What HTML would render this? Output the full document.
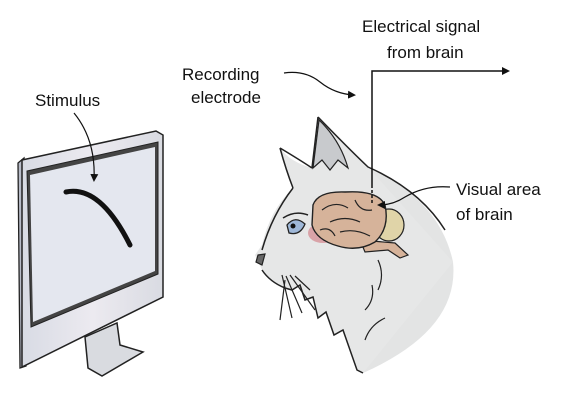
<!DOCTYPE html>
<html><head><meta charset="utf-8"><style>
html,body{margin:0;padding:0;background:#fff;width:576px;height:404px;overflow:hidden}
svg{display:block}
text{font-family:"Liberation Sans",sans-serif;font-size:17px;fill:#111}
</style></head><body>
<svg width="576" height="404" viewBox="0 0 576 404">
<defs>
<marker id="ah" markerWidth="8" markerHeight="8" refX="6" refY="4" orient="auto" markerUnits="userSpaceOnUse"><path d="M0,0 L8,4 L0,8 Z" fill="#111"/></marker>
<linearGradient id="fr" x1="0" x2="1"><stop offset="0" stop-color="#d8dbe4"/><stop offset="0.5" stop-color="#eceaf0"/><stop offset="1" stop-color="#d9dbe2"/></linearGradient>
</defs>
<g>
<path d="M85,337 L117,323 L120,345 L143,352 L102,376 L88,368 Z" fill="#d9dbe0" stroke="#222" stroke-width="1.5"/>
<path d="M18,163 L24,158 L26,366 L20,368 Z" fill="#b8bcc8" stroke="#222" stroke-width="1.3"/>
<path d="M22,160 L156,131 L163,135 L163,297 L22,367 Z" fill="url(#fr)" stroke="#222" stroke-width="1.5"/>
<path d="M27,171 L158,142 L158,274 L31,327 Z" fill="#444" stroke="#222" stroke-width="1"/>
<path d="M30,175 L155,147 L155,271 L33,322 Z" fill="#e4e7ef"/>
<path d="M66,192 Q100,185 130,245" fill="none" stroke="#111" stroke-width="5" stroke-linecap="round"/>
</g>
<text x="35" y="106">Stimulus</text>
<path d="M74,113 Q96,140 94,180" fill="none" stroke="#111" stroke-width="1.2" marker-end="url(#ah)"/>
<g>
<path d="M368,167 Q440,200 453,262 Q460,330 363,373 L340,300 Z" fill="#e3e4e4"/>
<path d="M280,148 Q290,162 312,168 L318,117 Q350,150 368,167 L453,262 L363,373 L357,370 L350,350 L343,330 L334,335 L326,312 L318,318 L313,297 L305,300 L300,285 L292,290 L285,288 Q270,282 262,270 L255,255 L262,245 Q270,210 293,188 Z" fill="#e6e7e7"/>
<path d="M280,148 Q300,160 312,168 M280,148 Q286,170 293,188 M318,117 L312,168 M318,117 Q350,150 368,167 Q420,190 445,230" fill="none" stroke="#222" stroke-width="1.5"/>
<path d="M319,120 L313,168 L322,160 L330,170 L338,160 L348,168 Q340,140 319,120 Z" fill="#c8cacd" stroke="#222" stroke-width="1.2"/>
<path d="M293,188 Q272,215 262,250 M262,270 Q270,282 285,288 L292,290 L300,285 L305,300 L313,297 L318,318 L326,312 L334,335 L343,330 L350,350 L357,370 L363,373" fill="none" stroke="#222" stroke-width="1.5"/>
<path d="M258,255 L265,254 L262,265 L256,262 Z" fill="#666" stroke="#222" stroke-width="1.2"/>
<path d="M287,225 Q295,215 305,224 Q300,236 289,233 Z" fill="#9fb8d8" stroke="#222" stroke-width="1.3"/>
<circle cx="293" cy="226" r="2.5" fill="#111"/>
<path d="M283,218 Q295,210 308,215" fill="none" stroke="#222" stroke-width="1.5"/>
<path d="M282,275 L292,318 M286,276 L302,313 M290,275 L315,310 M285,280 L280,320 M295,276 L310,290 M378,260 Q385,275 378,290 M372,285 Q375,300 365,310 M385,318 Q370,325 365,340" fill="none" stroke="#222" stroke-width="1.2"/>
</g>
<g>
<ellipse cx="323" cy="233" rx="15" ry="10" fill="#d9a3a8"/>
<path d="M360,240 L395,243 L408,255 L400,258 L388,250 L365,252 Z" fill="#d6b39a" stroke="#222" stroke-width="1.2"/>
<ellipse cx="389" cy="225" rx="15" ry="16" fill="#e0d4a8" stroke="#222" stroke-width="1.2"/>
<path d="M313,205 Q318,191 345,192 Q378,190 385,205 Q390,228 375,242 Q358,252 338,246 Q316,240 312,225 Z" fill="#d6b39a" stroke="#222" stroke-width="1.4"/>
<path d="M322,210 Q335,200 348,208 M330,222 Q345,215 360,222 M340,232 Q355,228 370,236 M355,200 Q360,212 372,210 M320,230 Q330,226 335,236" fill="none" stroke="#222" stroke-width="1.2"/>
</g>
<path d="M372,185 L372,71 L508,71" fill="none" stroke="#111" stroke-width="1.5" marker-end="url(#ah)"/>
<path d="M372,185 L372,203" stroke="#111" stroke-width="1.5" stroke-dasharray="3,2"/>
<text x="362" y="32">Electrical signal</text>
<text x="387" y="58">from brain</text>
<text x="182" y="80">Recording</text>
<text x="191" y="103">electrode</text>
<path d="M284,73 Q305,70 320,82 Q335,94 354,95" fill="none" stroke="#111" stroke-width="1.2" marker-end="url(#ah)"/>
<text x="456" y="195">Visual area</text>
<text x="456" y="220">of brain</text>
<path d="M450,187 Q425,185 405,197 Q393,205 379,205" fill="none" stroke="#111" stroke-width="1.2" marker-end="url(#ah)"/>
</svg>
</body></html>
